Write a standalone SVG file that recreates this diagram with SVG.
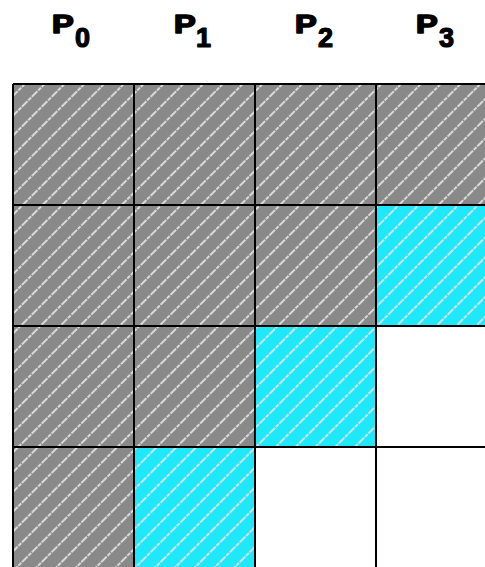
<svg xmlns="http://www.w3.org/2000/svg" width="485" height="567" viewBox="0 0 485 567">
<defs>
<pattern id="hatch" patternUnits="userSpaceOnUse" width="14" height="14" patternTransform="rotate(45)">
<line x1="7" y1="0" x2="7" y2="14" stroke="#e2e2e2" stroke-width="1.8" stroke-dasharray="4 1"/>
</pattern>
</defs>
<style>
.lbl{font-family:"Liberation Sans",Arial,sans-serif;font-weight:bold;font-size:25px;fill:#000;stroke:#000;stroke-width:1.6;stroke-linejoin:round}
.sub{font-size:27px;stroke-width:1.2}
.g{fill:#898989}
.c{fill:#1fe8fb}
.w{fill:#ffffff}
.h{fill:url(#hatch)}
.grid{stroke:#000;stroke-width:2;fill:none}
</style>
<rect width="485" height="567" fill="#fff"/>
<g id="labels">
<text class="lbl" transform="translate(52,33) scale(1.3,1)">P</text><text class="lbl sub" x="75" y="47">0</text>
<text class="lbl" transform="translate(174,33) scale(1.3,1)">P</text><text class="lbl sub" x="196" y="47">1</text>
<text class="lbl" transform="translate(295,33) scale(1.3,1)">P</text><text class="lbl sub" x="318" y="47">2</text>
<text class="lbl" transform="translate(416,33) scale(1.3,1)">P</text><text class="lbl sub" x="439" y="47">3</text>
</g>
<g id="r0c0"><rect class="g" x="13" y="84" width="121" height="121"/><rect class="h" x="13" y="84" width="121" height="121"/></g>
<g id="r0c1"><rect class="g" x="134" y="84" width="121" height="121"/><rect class="h" x="134" y="84" width="121" height="121"/></g>
<g id="r0c2"><rect class="g" x="255" y="84" width="121" height="121"/><rect class="h" x="255" y="84" width="121" height="121"/></g>
<g id="r0c3"><rect class="g" x="376" y="84" width="121" height="121"/><rect class="h" x="376" y="84" width="121" height="121"/></g>
<g id="r1c0"><rect class="g" x="13" y="205" width="121" height="121"/><rect class="h" x="13" y="205" width="121" height="121"/></g>
<g id="r1c1"><rect class="g" x="134" y="205" width="121" height="121"/><rect class="h" x="134" y="205" width="121" height="121"/></g>
<g id="r1c2"><rect class="g" x="255" y="205" width="121" height="121"/><rect class="h" x="255" y="205" width="121" height="121"/></g>
<g id="r1c3"><rect class="c" x="376" y="205" width="121" height="121"/><rect class="h" x="376" y="205" width="121" height="121"/></g>
<g id="r2c0"><rect class="g" x="13" y="326" width="121" height="121"/><rect class="h" x="13" y="326" width="121" height="121"/></g>
<g id="r2c1"><rect class="g" x="134" y="326" width="121" height="121"/><rect class="h" x="134" y="326" width="121" height="121"/></g>
<g id="r2c2"><rect class="c" x="255" y="326" width="121" height="121"/><rect class="h" x="255" y="326" width="121" height="121"/></g>
<g id="r2c3"><rect class="w" x="376" y="326" width="121" height="121"/></g>
<g id="r3c0"><rect class="g" x="13" y="447" width="121" height="121"/><rect class="h" x="13" y="447" width="121" height="121"/></g>
<g id="r3c1"><rect class="c" x="134" y="447" width="121" height="121"/><rect class="h" x="134" y="447" width="121" height="121"/></g>
<g id="r3c2"><rect class="w" x="255" y="447" width="121" height="121"/></g>
<g id="r3c3"><rect class="w" x="376" y="447" width="121" height="121"/></g>
<g id="gridlines" class="grid">
<path d="M13 84V568M134 84V568M255 84V568M376 84V568M13 84H497M13 205H497M13 326H497M13 447H497"/>
</g>
</svg>
